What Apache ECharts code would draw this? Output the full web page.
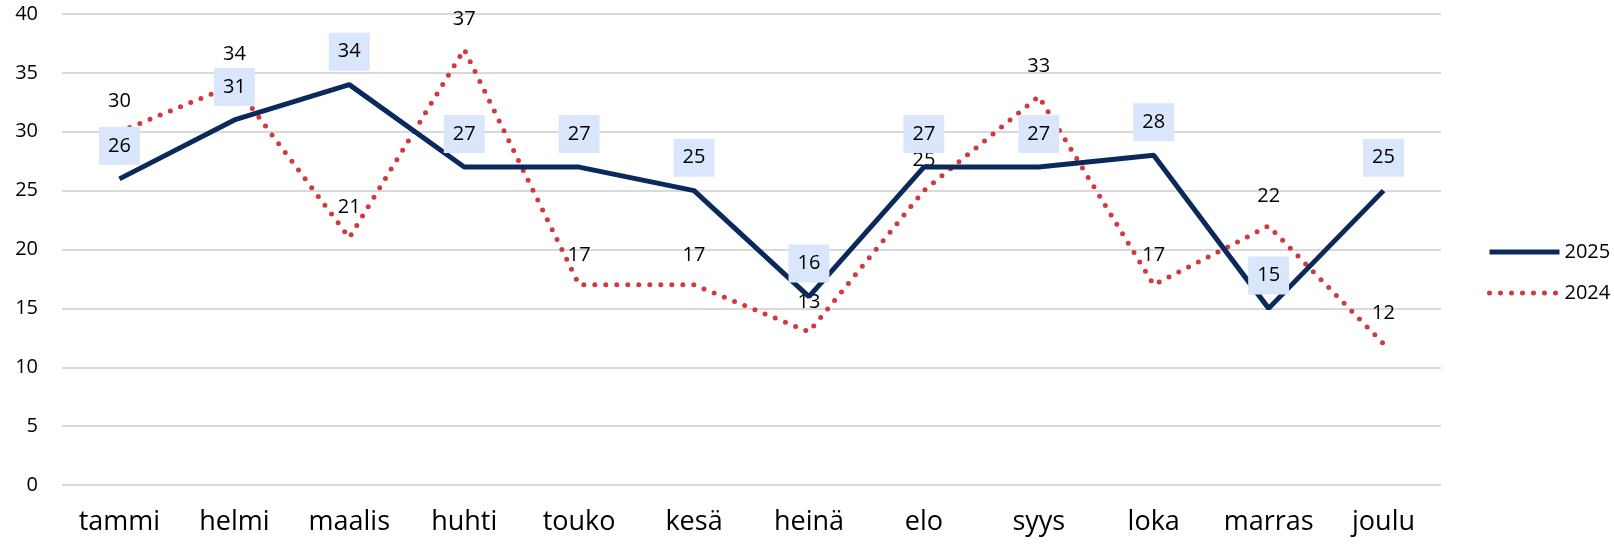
<!DOCTYPE html>
<html>
<head>
<meta charset="utf-8">
<script src="https://cdn.jsdelivr.net/npm/echarts@6/dist/echarts.min.js"></script>
<style>
html,body{margin:0;padding:0;background:#fff;}
#main{width:1614px;height:549px;}
</style>
</head>
<body>
<div id="main"></div>
<script>
var months=["tammi","helmi","maalis","huhti","touko","kesä","heinä","elo","syys","loka","marras","joulu"];
var data2025=[26,31,34,27,27,25,16,27,27,28,15,25];
var data2024=[30,34,21,37,17,17,13,25,33,17,22,12];

var myChart=echarts.init(document.getElementById('main'));
var font='"Open Sans", sans-serif';
var option={
	animation:false,
	textStyle:{fontFamily:font},
	grid:{left:62,right:173,top:14,bottom:64},
	legend:{
		orient:'vertical',
		left:1482,
		top:237,
		itemWidth:70,
		itemHeight:12,
		itemGap:21,
		itemStyle:{opacity:0},
		lineStyle:{width:5},
		textStyle:{fontSize:20,color:'#000',fontFamily:font},
		data:['2025','2024']
	},
	xAxis:{
		type:'category',
		data:months,
		axisLine:{show:false},
		axisTick:{show:false},
		axisLabel:{fontSize:27,color:'#000',margin:24,interval:0,fontFamily:font}
	},
	yAxis:{
		type:'value',
		min:0,max:40,interval:5,
		axisLine:{show:false},
		axisTick:{show:false},
		axisLabel:{fontSize:20,color:'#000',margin:24,fontFamily:font},
		splitLine:{lineStyle:{color:'#D9D9D9',width:2}}
	},
	series:[{
		name:'2024',
		type:'line',
		data:data2024,
		symbol:'circle',
		symbolSize:0,
		z:2,
		lineStyle:{color:'#D0393E',width:5,type:[0,11],cap:'round'},
		itemStyle:{color:'#D0393E'},
		label:{show:true,position:'top',distance:20,fontSize:20,color:'#000',fontFamily:font}
	},{
		name:'2025',
		type:'line',
		data:data2025,
		symbol:'circle',
		symbolSize:0,
		z:3,
		lineStyle:{color:'#0B2A5B',width:5},
		itemStyle:{color:'#0B2A5B'},
		label:{show:true,position:'top',distance:14,fontSize:20,lineHeight:20,color:'#000',fontFamily:font,
			backgroundColor:'#D9E6FB',padding:[9,9,9,9]}
	}]
};
myChart.setOption(option);
</script>
</body>
</html>
